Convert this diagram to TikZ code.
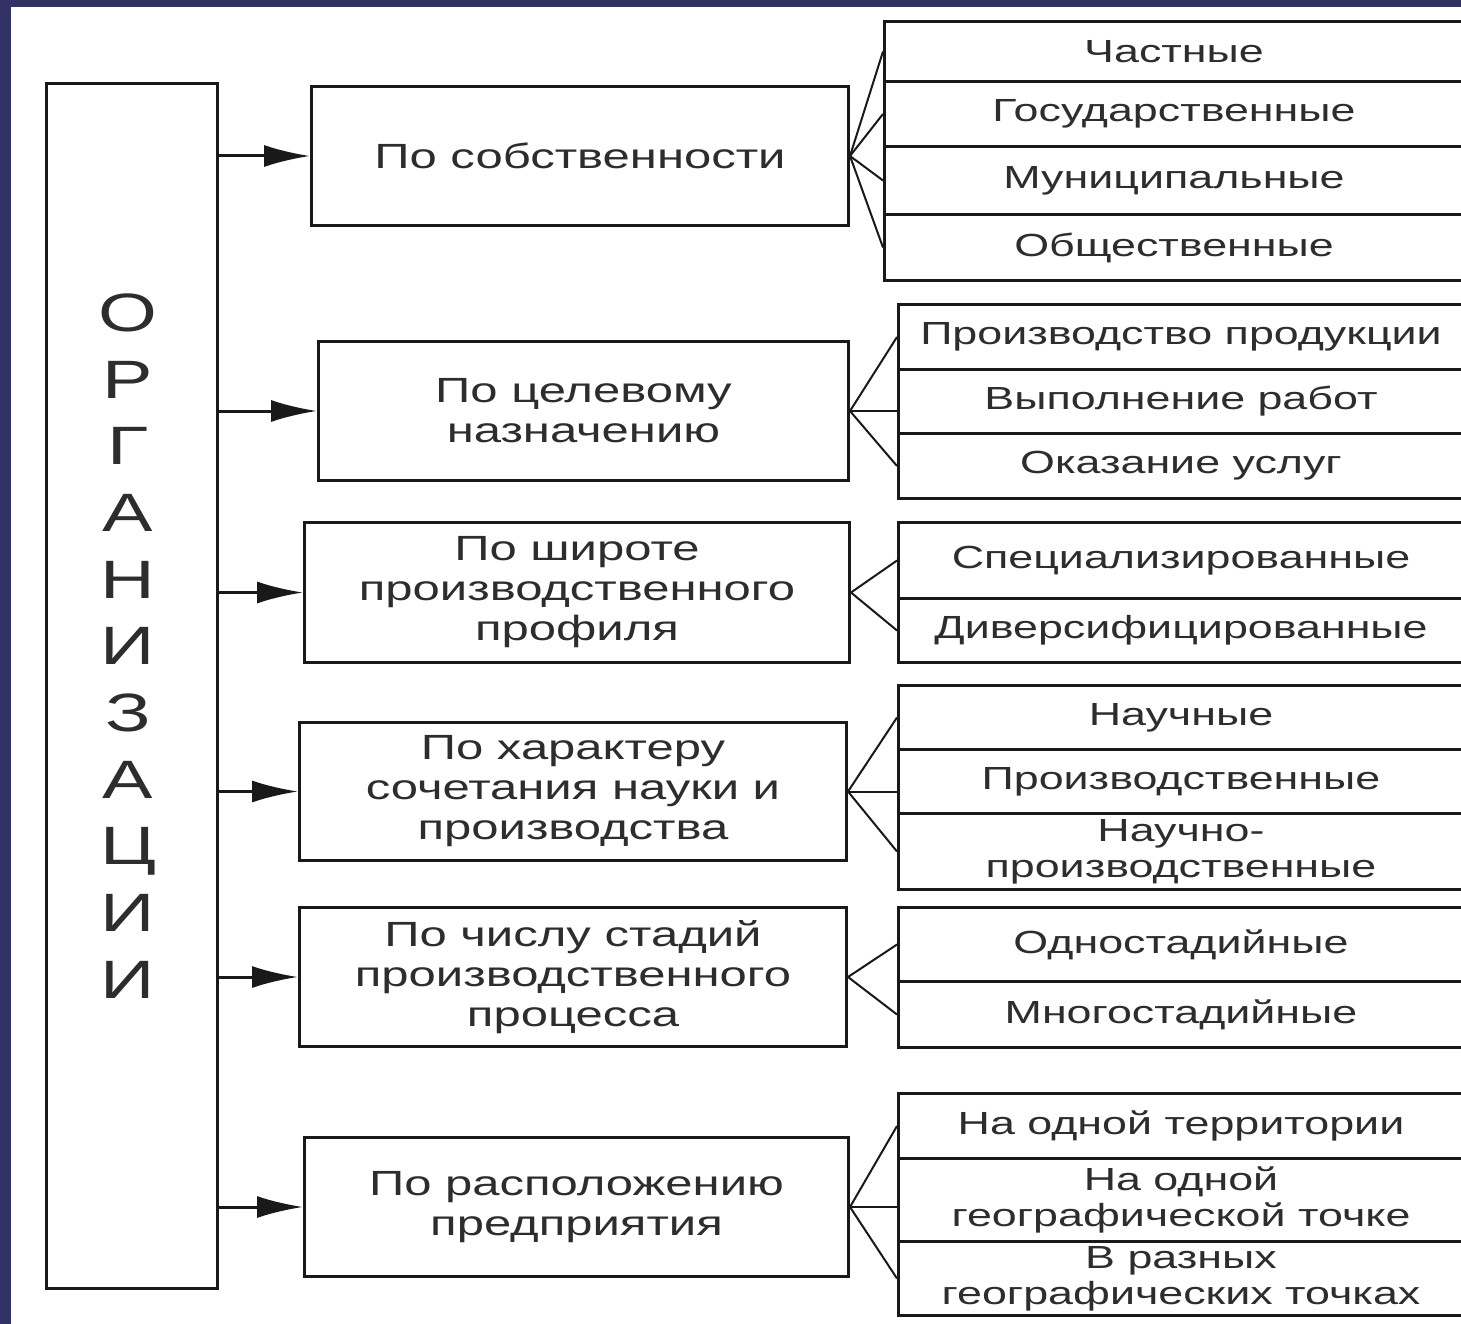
\documentclass[tikz,border=0pt]{standalone}
\usepackage{fontspec}
\setmainfont{Liberation Sans}[FakeStretch=1.4]
\usetikzlibrary{arrows.meta}
\definecolor{framecol}{RGB}{51,50,100}
\definecolor{inkcol}{RGB}{45,45,45}
\tikzset{box/.style = {draw=black!90, line width=3pt, inner sep=0,
                       anchor=north west, text=inkcol, align=center}}
\tikzset{catbox/.style = {box, font=\fontsize{35}{40}\selectfont}}
\tikzset{rowbox/.style = {box, minimum width=565pt,
                          font=\fontsize{32}{36}\selectfont}}
\tikzset{fan/.style = {line width=2pt, black!90}}
\tikzset{feed/.style = {line width=3pt, black!90,
                        -{Latex[length=46pt, width=22pt]}}}

\begin{document}
\begin{tikzpicture}[x=1pt, y=-1pt]
    \clip (0,0) rectangle (1461,1324);
    \fill[framecol] (0,0) rectangle (1461,1324);
    \fill[white] (11,7) rectangle (1461,1324);
    % main box
    \node[box, minimum width=171pt, minimum height=1205pt] (org) at (45,82) {};
    \node[text=inkcol, align=center, font=\fontsize{54}{66.7}\selectfont]
        (orgname) at (128,646) {О\\Р\\Г\\А\\Н\\И\\З\\А\\Ц\\И\\И};
    % categories
    \node[catbox, minimum width=537pt, minimum height=139pt] (c1) at (310,85)
        {По собственности};
    \node[catbox, minimum width=530pt, minimum height=139pt] (c2) at (317,340)
        {По целевому\\назначению};
    \node[catbox, minimum width=545pt, minimum height=140pt] (c3) at (303,521)
        {По широте\\производственного\\профиля};
    \node[catbox, minimum width=547pt, minimum height=138pt] (c4) at (298,721)
        {По характеру\\сочетания науки и\\производства};
    \node[catbox, minimum width=547pt, minimum height=139pt] (c5) at (298,906)
        {По числу стадий\\производственного\\процесса};
    \node[catbox, minimum width=544pt, minimum height=139pt] (c6) at (303,1136)
        {По расположению\\предприятия};
    \foreach \c in {c1,c2,c3,c4,c5,c6} {
        \draw[feed] (org.east |- \c.west) -- (\c.west);
    }
    % rows of each group
    \foreach \i/\y/\h/\txt in {1/20/60pt/Частные, 2/80/65pt/Государственные,
                               3/145/68pt/Муниципальные, 4/213/66pt/Общественные} {
        \node[rowbox, minimum width=579pt, minimum height=\h] (a\i) at (883,\y) {\txt};
        \draw[fan] (c1.east) -- (a\i.west);
    }
    \foreach \i/\y/\h/\txt in {1/303/65pt/Производство продукции,
                               2/368/64pt/Выполнение работ, 3/432/65pt/Оказание услуг} {
        \node[rowbox, minimum height=\h] (b\i) at (897,\y) {\txt};
    }
    \foreach \i/\y/\h/\txt in {1/521/76pt/Специализированные,
                               2/597/64pt/Диверсифицированные} {
        \node[rowbox, minimum height=\h] (d\i) at (897,\y) {\txt};
        \draw[fan] (c3.east) -- (d\i.west);
    }
    \foreach \i/\y/\h/\txt in {1/684/64pt/Научные, 2/748/64pt/Производственные,
                               3/812/76pt/{Научно-\\производственные}} {
        \node[rowbox, minimum height=\h] (e\i) at (897,\y) {\txt};
    }
    \foreach \i/\y/\h/\txt in {1/906/74pt/Одностадийные, 2/980/66pt/Многостадийные} {
        \node[rowbox, minimum height=\h] (f\i) at (897,\y) {\txt};
        \draw[fan] (c5.east) -- (f\i.west);
    }
    \foreach \i/\y/\h/\txt in {1/1092/65pt/На одной территории,
                               2/1157/83pt/{На одной\\географической точке},
                               3/1240/74pt/{В разных\\географических точках}} {
        \node[rowbox, minimum height=\h] (g\i) at (897,\y) {\txt};
    }
    % three-way fans: middle branch runs straight across
    \foreach \c/\r in {c2/b, c4/e, c6/g} {
        \draw[fan] (\c.east) -- (\r1.west);
        \draw[fan] (\c.east) -- (\c.east -| \r2.west);
        \draw[fan] (\c.east) -- (\r3.west);
    }
\end{tikzpicture}
\end{document}
